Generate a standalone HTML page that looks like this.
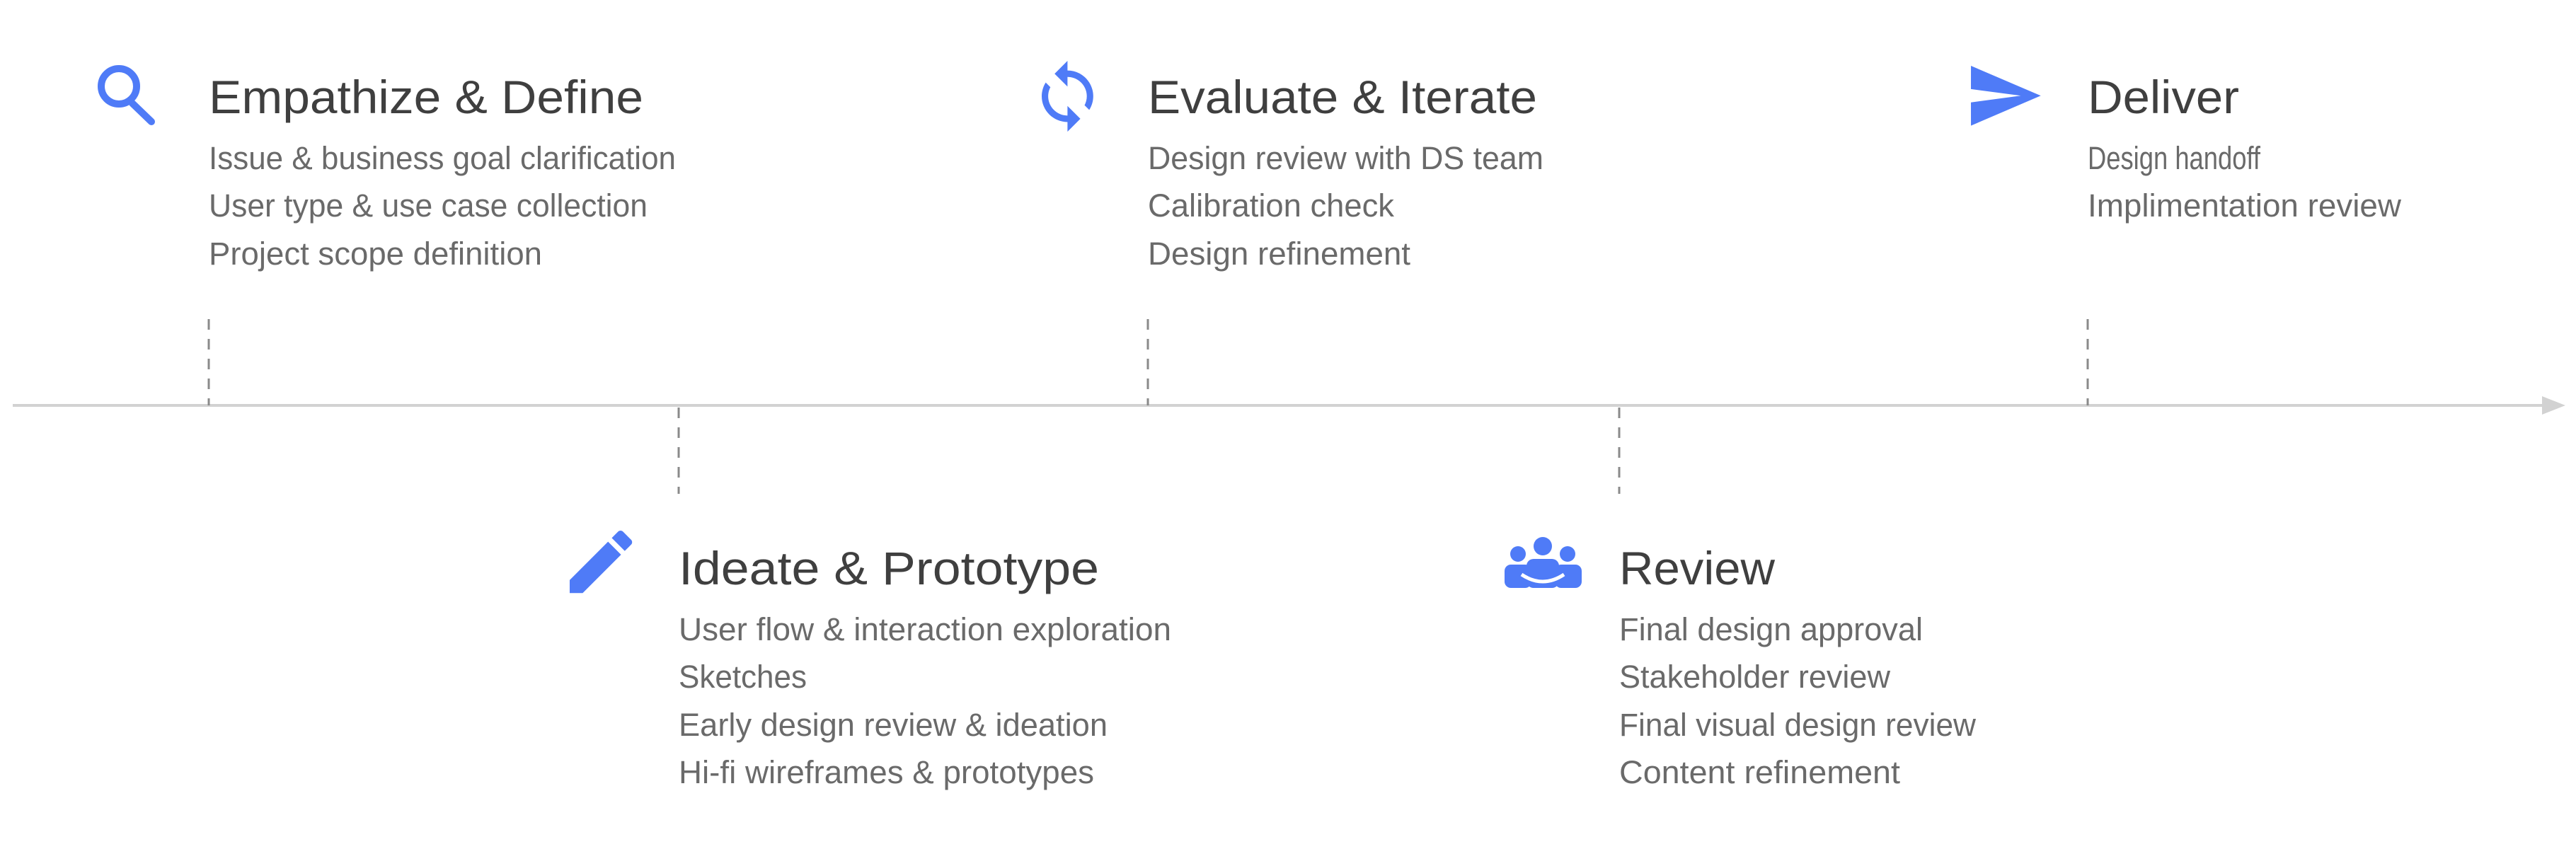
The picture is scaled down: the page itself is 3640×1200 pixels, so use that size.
<!DOCTYPE html>
<html><head><meta charset="utf-8"><style>
html,body{margin:0;padding:0;background:#fff;}
svg{display:block;}
.t{font-family:"Liberation Sans",sans-serif;font-size:66px;fill:#3f3f3f;}
.b{font-family:"Liberation Sans",sans-serif;font-size:45px;fill:#6a6a6a;}
</style></head><body>
<svg width="3640" height="1200" viewBox="0 0 3640 1200" xmlns="http://www.w3.org/2000/svg">
<line x1="18" y1="573" x2="3600" y2="573" stroke="#d2d2d2" stroke-width="4"/>
<polygon points="3592,560 3625,573 3592,586" fill="#d2d2d2"/>
<g stroke="#8a8a8a" stroke-width="3" stroke-dasharray="15 13">
<line x1="295" y1="451" x2="295" y2="573"/>
<line x1="1622" y1="451" x2="1622" y2="573"/>
<line x1="2950" y1="451" x2="2950" y2="573"/>
<line x1="959" y1="576" x2="959" y2="698"/>
<line x1="2288" y1="576" x2="2288" y2="698"/>
</g>
<g fill="#4f7bf7">
<circle cx="168" cy="122" r="25" fill="none" stroke="#4f7bf7" stroke-width="10"/>
<line x1="187" y1="146" x2="214" y2="172" stroke="#4f7bf7" stroke-width="10" stroke-linecap="round"/>
<path transform="translate(1453.8,81.45) scale(4.55)" d="M12 4V1L8 5l4 4V6c3.31 0 6 2.69 6 6 0 1.010-.25 1.97-.7 2.8l1.46 1.46C19.54 15.03 20 13.57 20 12c0-4.42-3.58-8-8-8zm0 14c-3.31 0-6-2.69-6-6 0-1.01.25-1.97.7-2.8L5.240 7.74C4.46 8.97 4 10.43 4 12c0 4.42 3.58 8 8 8v3l4-4-4-4v3z"/>
<path transform="translate(2775.6,78.9) scale(4.7)" d="M2.01 21L23 12 2.01 3 2 10l15 2-15 2z"/>
<path transform="translate(790.3,735.3) scale(4.9)" d="M3 17.25V21h3.75L17.81 9.94l-3.75-3.75L3 17.25zM20.71 7.04c.39-.39.39-1.020 0-1.41l-2.34-2.34c-.39-.39-1.02-.39-1.41 0l-1.83 1.83 3.75 3.75 1.83-1.83z"/>
<circle cx="2180" cy="772" r="13"/>
<circle cx="2145" cy="783" r="11"/>
<circle cx="2215" cy="783" r="11"/>
<rect x="2126" y="798" width="38" height="33" rx="9"/>
<rect x="2197" y="798" width="38" height="33" rx="9"/>
<rect x="2157" y="790" width="46" height="41" rx="10"/>
<path d="M2150 812 Q2180 832 2210 812" fill="none" stroke="#fff" stroke-width="5"/>
</g>
<text class="t" x="295" y="160" textLength="614" lengthAdjust="spacingAndGlyphs">Empathize &amp; Define</text>
<text class="b" x="295" y="239" textLength="660" lengthAdjust="spacingAndGlyphs">Issue &amp; business goal clarification</text>
<text class="b" x="295" y="306" textLength="620" lengthAdjust="spacingAndGlyphs">User type &amp; use case collection</text>
<text class="b" x="295" y="374" textLength="471" lengthAdjust="spacingAndGlyphs">Project scope definition</text>

<text class="t" x="1622" y="160" textLength="550" lengthAdjust="spacingAndGlyphs">Evaluate &amp; Iterate</text>
<text class="b" x="1622" y="239" textLength="559" lengthAdjust="spacingAndGlyphs">Design review with DS team</text>
<text class="b" x="1622" y="306" textLength="348" lengthAdjust="spacingAndGlyphs">Calibration check</text>
<text class="b" x="1622" y="374" textLength="371" lengthAdjust="spacingAndGlyphs">Design refinement</text>

<text class="t" x="2950" y="160" textLength="214" lengthAdjust="spacingAndGlyphs">Deliver</text>
<text class="b" x="2950" y="239" textLength="244" lengthAdjust="spacingAndGlyphs">Design handoff</text>
<text class="b" x="2950" y="306" textLength="443" lengthAdjust="spacingAndGlyphs">Implimentation review</text>

<text class="t" x="959" y="826" textLength="594" lengthAdjust="spacingAndGlyphs">Ideate &amp; Prototype</text>
<text class="b" x="959" y="905" textLength="696" lengthAdjust="spacingAndGlyphs">User flow &amp; interaction exploration</text>
<text class="b" x="959" y="972" textLength="181" lengthAdjust="spacingAndGlyphs">Sketches</text>
<text class="b" x="959" y="1040" textLength="606" lengthAdjust="spacingAndGlyphs">Early design review &amp; ideation</text>
<text class="b" x="959" y="1107" textLength="587" lengthAdjust="spacingAndGlyphs">Hi-fi wireframes &amp; prototypes</text>

<text class="t" x="2288" y="826" textLength="220" lengthAdjust="spacingAndGlyphs">Review</text>
<text class="b" x="2288" y="905" textLength="429" lengthAdjust="spacingAndGlyphs">Final design approval</text>
<text class="b" x="2288" y="972" textLength="383" lengthAdjust="spacingAndGlyphs">Stakeholder review</text>
<text class="b" x="2288" y="1040" textLength="504" lengthAdjust="spacingAndGlyphs">Final visual design review</text>
<text class="b" x="2288" y="1107" textLength="397" lengthAdjust="spacingAndGlyphs">Content refinement</text>
</svg>
</body></html>
